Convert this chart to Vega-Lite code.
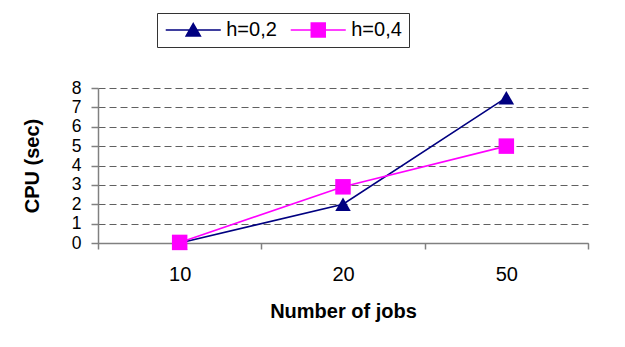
{
  "$schema": "https://vega.github.io/schema/vega-lite/v6.json",
  "width": 490,
  "height": 155,
  "autosize": {"type": "none"},
  "padding": {"left": 98, "top": 88, "right": 37, "bottom": 104},
  "background": "white",
  "config": {
    "font": "Liberation Sans",
    "view": {"stroke": null},
    "axis": {"labelFont": "Liberation Sans", "titleFont": "Liberation Sans", "labelColor": "#000000", "titleColor": "#000000", "domainColor": "#808080", "tickColor": "#808080", "domainWidth": 1.5, "tickWidth": 1.5}
  },
  "data": {
    "values": [
      {"jobs": "10", "series": "h=0,2", "cpu": 0},
      {"jobs": "20", "series": "h=0,2", "cpu": 2.0},
      {"jobs": "50", "series": "h=0,2", "cpu": 7.5},
      {"jobs": "10", "series": "h=0,4", "cpu": 0.03},
      {"jobs": "20", "series": "h=0,4", "cpu": 2.9},
      {"jobs": "50", "series": "h=0,4", "cpu": 5.0}
    ]
  },
  "encoding": {
    "x": {
      "field": "jobs",
      "type": "ordinal",
      "sort": ["10", "20", "50"],
      "scale": {"type": "band", "paddingInner": 0, "paddingOuter": 0},
      "axis": {
        "title": "Number of jobs",
        "labelAngle": 0,
        "tickBand": "extent",
        "tickSize": 6,
        "labelPadding": 15.5,
        "labelFontSize": 20,
        "titleFontSize": 20,
        "titleFontWeight": "bold",
        "titlePadding": 16.5,
        "grid": false
      }
    },
    "y": {
      "field": "cpu",
      "type": "quantitative",
      "scale": {"domain": [0, 8], "nice": false},
      "axis": {
        "title": "CPU (sec)",
        "values": [0, 1, 2, 3, 4, 5, 6, 7, 8],
        "tickSize": 7,
        "labelPadding": 10,
        "labelFontSize": 17.5,
        "titleFontSize": 20,
        "titleFontWeight": "bold",
        "titlePadding": 29,
        "grid": true,
        "gridDash": [7, 4],
        "gridColor": "#606060",
        "gridWidth": 1.2
      }
    },
    "color": {
      "field": "series",
      "type": "nominal",
      "scale": {"domain": ["h=0,2", "h=0,4"], "range": ["#000080", "#FF00FF"]},
      "legend": {
        "title": null,
        "orient": "none",
        "direction": "horizontal",
        "columns": 2,
        "legendX": 59,
        "legendY": -75,
        "padding": 7,
        "strokeColor": "#333333",
        "fillColor": "#ffffff",
        "labelFontSize": 20,
        "labelFont": "Liberation Sans",
        "labelColor": "#000000",
        "symbolSize": 225,
        "symbolOffset": 19.25,
        "labelOffset": 23,
        "columnPadding": 10,
        "symbolType": {"expr": "datum.value === 'h=0,2' ? 'M-3.67,0H3.67M0,-0.85L0.95,0.8H-0.95Z' : 'M-3.67,0H3.67M-0.93,-0.93H0.93V0.93H-0.93Z'"},
        "symbolStrokeColor": {"expr": "datum.value === 'h=0,2' ? '#000080' : '#FF00FF'"},
        "symbolFillColor": {"expr": "datum.value === 'h=0,2' ? '#000080' : '#FF00FF'"},
        "symbolStrokeWidth": 1.5,
        "symbolOpacity": 1
      }
    }
  },
  "layer": [
    {"mark": {"type": "line", "strokeWidth": 1.6}},
    {
      "mark": {"type": "point", "filled": true, "opacity": 1, "size": 240},
      "encoding": {
        "shape": {
          "condition": {"test": "datum.series === 'h=0,2'", "value": "triangle-up"},
          "value": "square"
        }
      }
    }
  ]
}
